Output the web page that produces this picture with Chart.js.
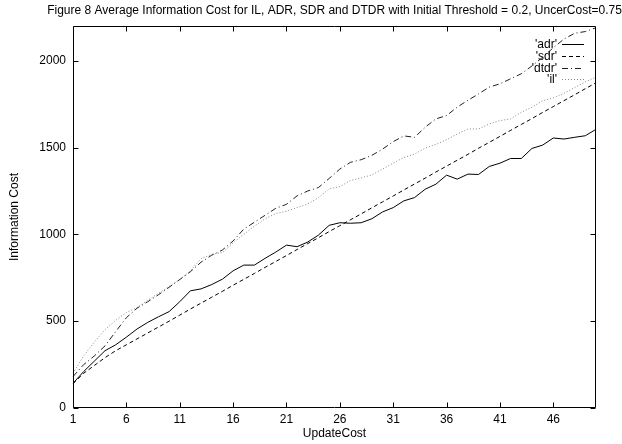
<!DOCTYPE html>
<html>
<head>
<meta charset="utf-8">
<script src="https://cdn.jsdelivr.net/npm/chart.js@4"></script>
<style>
body{margin:0;background:#fff;}
#wrap{width:622px;height:444px;}
</style>
</head>
<body>
<div id="wrap"><canvas id="chart" width="622" height="444"></canvas></div>
<script>
// valeurs (Information Cost en fonction de UpdateCost)
const updateCost = [1,2,3,4,5,6,7,8,9,10,11,12,13,14,15,16,17,18,19,20,21,22,23,24,25,
                    26,27,28,29,30,31,32,33,34,35,36,37,38,39,40,41,42,43,44,45,46,47,48,49,50];
const adr  = [142,210,270,330,364,408,455,493,525,555,612,675,686,711,742,790,823,823,862,898,938,929,956,996,1052,
              1067,1064,1067,1090,1129,1154,1193,1212,1260,1289,1341,1318,1347,1345,1391,1410,1437,1437,1495,1514,1555,1549,1559,1568,1605];
const sdr  = [140,200,245,290,330,364,398,432,466,500,535,570,604,638,672,707,741,775,810,844,878,913,947,981,1016,
              1050,1084,1118,1153,1187,1221,1256,1290,1324,1359,1393,1427,1461,1496,1530,1564,1599,1633,1667,1702,1736,1770,1804,1839,1873];
const dtdr = [181,250,300,358,440,520,575,612,652,695,740,785,840,880,910,962,1030,1070,1110,1150,1173,1222,1250,1270,1322,
              1376,1415,1430,1455,1491,1534,1567,1559,1617,1665,1684,1733,1772,1809,1848,1867,1896,1925,1970,2020,2075,2125,2158,2168,2190];
const il   = [200,300,380,451,505,550,578,620,660,700,740,790,860,885,895,952,1000,1048,1090,1120,1133,1154,1175,1212,1262,
              1275,1310,1325,1342,1376,1410,1443,1462,1497,1518,1545,1578,1607,1607,1636,1655,1665,1703,1732,1770,1786,1812,1845,1878,1905];

const xTicks = [1,6,11,16,21,26,31,36,41,46];
const yTicks = [0,500,1000,1500,2000];

const titre = 'Figure 8 Average Information Cost for IL, ADR, SDR and DTDR with Initial Threshold = 0.2, UncerCost=0.75';
const police = "'Liberation Sans', Arial, Helvetica, sans-serif";

// cadre + graduations vers l'intérieur, titre et légende, comme gnuplot
const cadreGnuplot = {
    id: 'cadreGnuplot',
    afterDatasetsDraw(chart) {
        const {ctx, chartArea: a, scales} = chart;
        const L = Math.round(a.left) + 0.5, R = Math.round(a.right) - 0.5;
        const T = Math.round(a.top) + 0.5, B = Math.round(a.bottom) - 0.5;
        ctx.save();
        ctx.strokeStyle = '#000';
        ctx.lineWidth = 1;
        ctx.beginPath();
        ctx.rect(L, T, R - L, B - T);
        scales.x.ticks.forEach(t => {
            const px = Math.round(scales.x.getPixelForValue(t.value)) + 0.5;
            ctx.moveTo(px, B); ctx.lineTo(px, B - 5);
            ctx.moveTo(px, T); ctx.lineTo(px, T + 5);
        });
        scales.y.ticks.forEach(t => {
            const py = Math.round(scales.y.getPixelForValue(t.value)) + 0.5;
            ctx.moveTo(L, py); ctx.lineTo(L + 5, py);
            ctx.moveTo(R, py); ctx.lineTo(R - 5, py);
        });
        ctx.stroke();

        // titre (plus large que la zone du graphe, donc pas le plugin title)
        ctx.font = '12px ' + police;
        ctx.fillStyle = '#000';
        ctx.textAlign = 'center';
        ctx.textBaseline = 'middle';
        ctx.fillText(titre, (a.left + a.right) / 2, 11);

        // légende en haut à droite
        ctx.textAlign = 'right';
        chart.data.datasets.forEach((ds, i) => {
            const y = Math.round(a.top + 18 + i * 11.8) + 0.5;
            ctx.fillText(ds.label, a.right - 39, y);
            ctx.beginPath();
            ctx.strokeStyle = ds.borderColor;
            ctx.setLineDash(ds.borderDash || []);
            ctx.moveTo(a.right - 34, y);
            ctx.lineTo(a.right - 12, y);
            ctx.stroke();
        });
        ctx.restore();
    }
};

const serie = (label, data, color, dash) => ({
    label, data,
    borderColor: color,
    borderDash: dash,
    borderWidth: 1,
    pointRadius: 0,
    tension: 0,
    fill: false
});

new Chart(document.getElementById('chart'), {
    type: 'line',
    data: {
        labels: updateCost,
        datasets: [
            serie("'adr'", adr, '#000', []),
            serie("'sdr'", sdr, '#000', [4, 3]),
            serie("'dtdr'", dtdr, '#222', [6, 3, 1, 3]),
            serie("'il'", il, '#888', [1, 2])
        ]
    },
    options: {
        responsive: false,
        animation: false,
        layout: {padding: {left: 0, right: 26, top: 26, bottom: 0}},
        plugins: {
            legend: {display: false},
            tooltip: {enabled: false},
            title: {display: false}
        },
        scales: {
            x: {
                type: 'category',
                offset: false,
                grid: {display: false, drawTicks: false},
                border: {display: false},
                ticks: {
                    autoSkip: false, maxRotation: 0, padding: 4, color: '#000',
                    font: {family: police, size: 12},
                    callback(v) { return this.getLabelForValue(v); }
                },
                afterBuildTicks(s) { s.ticks = xTicks.map(v => ({value: updateCost.indexOf(v)})); },
                afterFit(s) { s.height = 36; },
                title: {display: true, text: 'UpdateCost', color: '#000',
                        font: {family: police, size: 12}, padding: {top: 0, bottom: 3}}
            },
            y: {
                min: 0, max: 2200,
                grid: {display: false, drawTicks: false},
                border: {display: false},
                ticks: {padding: 7, color: '#000', font: {family: police, size: 12},
                        callback(v) { return String(v); }},
                afterBuildTicks(s) { s.ticks = yTicks.map(v => ({value: v})); },
                afterFit(s) { s.width = 73; },
                title: {display: true, text: 'Information Cost', color: '#000',
                        font: {family: police, size: 12}, padding: {top: 7, bottom: 0}}
            }
        }
    },
    plugins: [cadreGnuplot]
});
</script>
</body>
</html>
